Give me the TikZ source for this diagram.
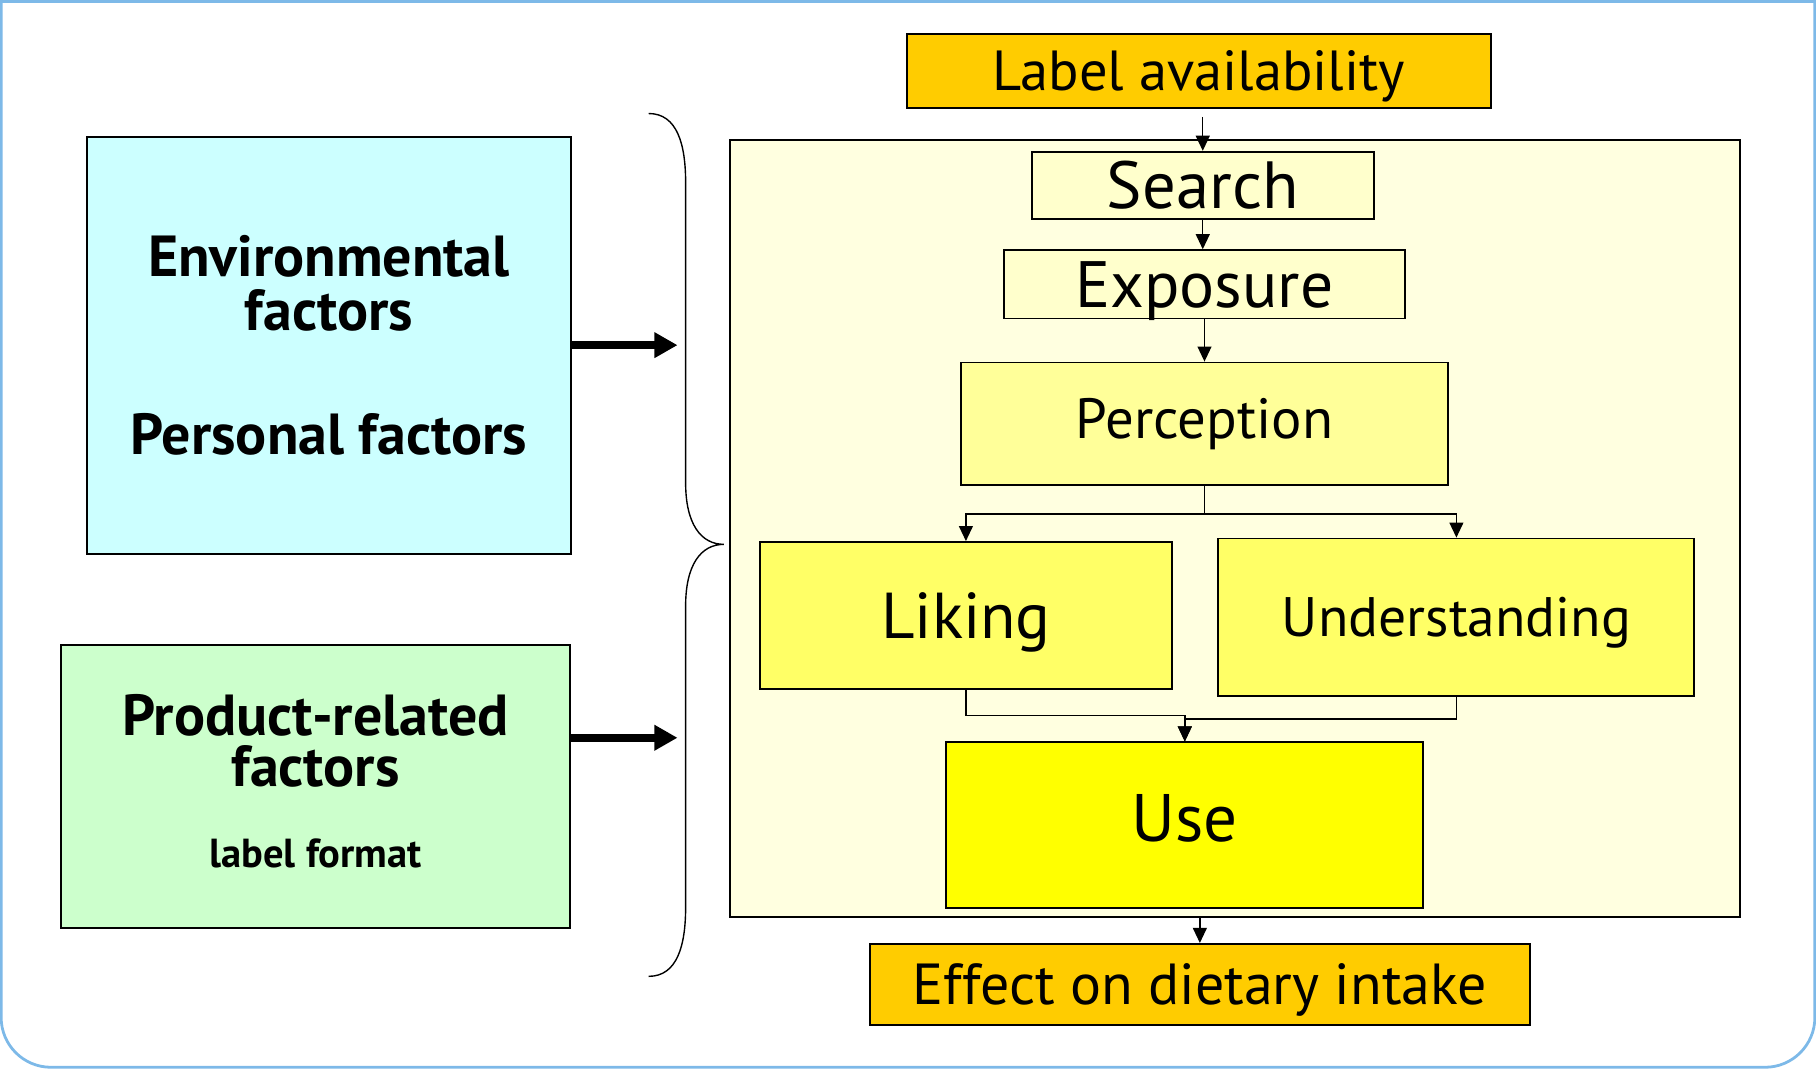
\documentclass[tikz,border=0pt]{standalone}
\usepackage{fontspec}
\setmainfont{PT Sans}
\usetikzlibrary{arrows.meta}

\definecolor{gold}{HTML}{FFCC00}
\definecolor{paleyellow}{HTML}{FFFFCC}
\definecolor{lightyellow}{HTML}{FFFF99}
\definecolor{midyellow}{HTML}{FFFF66}
\definecolor{fullyellow}{HTML}{FFFF00}
\definecolor{creamfill}{HTML}{FFFFE0}
\definecolor{envcyan}{HTML}{CCFFFF}
\definecolor{prodgreen}{HTML}{CCFFCC}
\definecolor{frameblue}{HTML}{7DB9E8}

\begin{document}
\begin{tikzpicture}[x=0.5pt, y=-0.5pt,
  stage/.style={draw=black, line width=0.8pt, inner sep=0pt, align=center},
  factor/.style={draw=black, line width=0.8pt, inner sep=0pt, align=center},
  flow/.style={-{Triangle[length=6.5pt,width=6pt]}, line width=0.6pt},
  fat/.style={-{Triangle[length=10pt,width=10.5pt]}, line width=3.3pt}]
\useasboundingbox (0,0) rectangle (1568,923);

% Slide frame
\begin{scope}
\clip (0,0) rectangle (1568,923);
\draw[frameblue, line width=1.2pt, rounded corners=21.5pt] (1,-100) rectangle (1567,921.5);
\end{scope}
\draw[frameblue, line width=1.2pt] (0,1) -- (1568,1);

% Stages of label use
\node[stage, fill=creamfill, minimum width=436pt, minimum height=335.5pt] (stages) at (1066,456.5) {};
\node[stage, fill=gold, minimum width=252pt, minimum height=32pt, text depth=0pt, font=\fontsize{24.4}{28}\selectfont] (avail) at (1035,61) {Label availability};
\node[stage, fill=paleyellow, minimum width=147.5pt, minimum height=29pt, font=\fontsize{28.8}{32}\selectfont] (search) at (1038.5,160) {Search};
\node[stage, fill=paleyellow, minimum width=173pt, minimum height=29.5pt, text depth=0pt, font=\fontsize{28.3}{32}\selectfont] (expo) at (1040,245.5) {Exposure};
\node[stage, fill=lightyellow, minimum width=210pt, minimum height=53pt, font=\fontsize{24.5}{28}\selectfont] (perc) at (1040,366) {Perception};
\node[stage, fill=midyellow, minimum width=178pt, minimum height=63.5pt, text depth=0pt, font=\fontsize{28}{32}\selectfont] (liking) at (834,531.5) {Liking};
\node[stage, fill=midyellow, minimum width=205.5pt, minimum height=68pt, text depth=0pt, font=\fontsize{24}{28}\selectfont] (underst) at (1257.5,533) {Understanding};
\node[stage, fill=fullyellow, minimum width=206pt, minimum height=71.5pt, text depth=6pt, font=\fontsize{29}{33}\selectfont] (use) at (1023,712.5) {Use};
\node[stage, fill=gold, minimum width=285pt, minimum height=35pt, text depth=0pt, font=\fontsize{25}{29}\selectfont] (effect) at (1036,850) {Effect on dietary intake};

% Factors
\node[factor, fill=envcyan, minimum width=209pt, minimum height=180pt, font=\bfseries\fontsize{25}{23.5}\selectfont] (env) at (284,298) {Environmental\\factors\\[30pt]Personal factors};
\node[factor, fill=prodgreen, minimum width=219.5pt, minimum height=122pt, text depth=5pt, font=\bfseries\fontsize{25}{22}\selectfont] (prod) at (272.5,679) {Product-related\\factors\\[13pt]{\fontsize{17.5}{16}\selectfont label format}};

% Flow between stages
\draw[flow, shorten <=3.5pt] (avail.south -| search.north) -- (search.north);
\draw[flow] (search.south) -- (search.south |- expo.north);
\draw[flow] (expo.south) -- (expo.south |- perc.north);
\draw[flow] (perc.south) -- ++(0,24) -| (liking.north);
\draw[flow] (perc.south) -- ++(0,24) -| (underst.north);
\draw[flow] (liking.south) -- ++(0,22) -| (use.north);
\draw[flow] (underst.south) -- ++(0,19) -| (use.north);
\draw[flow] (stages.south -| effect.north) -- (effect.north);

% Brace and input arrows
\coordinate (in1) at (585,298);
\coordinate (in2) at (585,637);
\draw[line width=0.6pt] (560,98) .. controls (585,98) and (592,125) .. (592,158) -- (592,417)
  .. controls (592,452) and (605,470) .. (625,470)
  .. controls (605,470) and (592,488) .. (592,523) -- (592,783)
  .. controls (592,816) and (585,843) .. (560,843);
\draw[fat] (env.east |- in1) -- (in1);
\draw[fat] (prod.east |- in2) -- (in2);

\end{tikzpicture}
\end{document}
